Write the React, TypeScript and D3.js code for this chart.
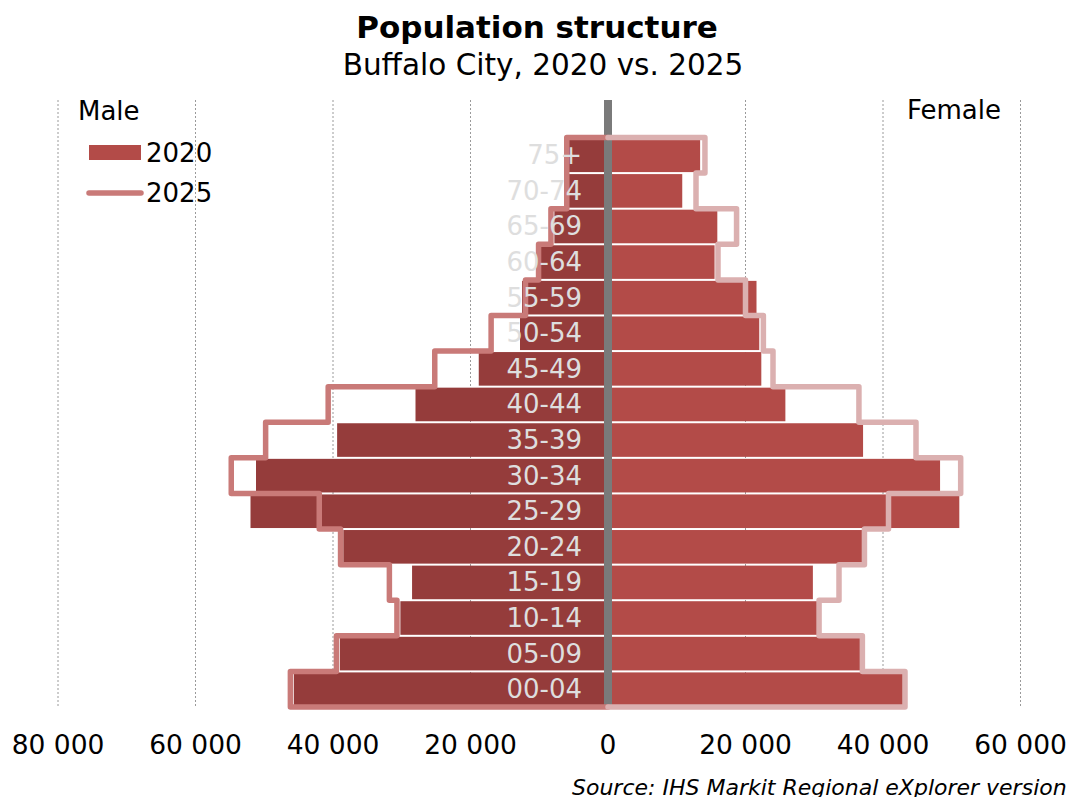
import React from "react";
import * as d3 from "d3";

const ageGroups = ["75+", "70-74", "65-69", "60-64", "55-59", "50-54", "45-49", "40-44", "35-39", "30-34", "25-29", "20-24", "15-19", "10-14", "05-09", "00-04"];
const male2020 = [5700, 5700, 7800, 9800, 12500, 12800, 18800, 28000, 39400, 51200, 52000, 38500, 28500, 30200, 39000, 45700];
const male2025 = [6000, 6000, 8300, 10100, 12000, 17000, 25200, 40700, 49800, 54800, 42000, 38900, 31800, 30700, 39500, 46200];
const female2020 = [13400, 10800, 15900, 15500, 21600, 22000, 22300, 25800, 37100, 48300, 51100, 37000, 29800, 30400, 36800, 42900];
const female2025 = [14100, 12800, 18700, 16000, 20000, 22600, 24000, 36500, 44800, 51300, 40800, 37300, 33600, 30700, 37000, 43200];
const tickValues = [-80000, -60000, -40000, -20000, 0, 20000, 40000, 60000];

const FONT = "DejaVu Sans, Verdana, sans-serif";
const C_MALE = "#953c3b";
const C_FEMALE = "#b34b48";
const C_MALE25 = "#c97a78";
const C_FEMALE25 = "#dbb0b0";

export default function App() {
  const W = 1070, H = 797;
  const x = d3.scaleLinear().domain([-80000, 60000]).range([58, 1020.5]);
  const y = d3.scaleBand<string>().domain(ageGroups).range([137.5, 707]).padding(0);
  const bw = y.bandwidth();
  const gridTop = 100, gridBottom = 707;
  const fmt = (v: number) => d3.format(",")(Math.abs(v)).replace(/,/g, " ");

  const stepPath = (vals: number[], sign: number) => {
    const pts: [number, number][] = [];
    pts.push([x(0), y(ageGroups[0])!]);
    vals.forEach((v, i) => {
      const top = y(ageGroups[i])!;
      pts.push([x(sign * v), top]);
      pts.push([x(sign * v), top + bw]);
    });
    pts.push([x(0), y(ageGroups[ageGroups.length - 1])! + bw]);
    return d3.line()(pts) || "";
  };

  return (
    <svg width={W} height={H} style={{ position: "absolute", left: 0, top: 0, background: "#fff" }} fontFamily={FONT}>
      <rect x={0} y={0} width={W} height={H} fill="#fff" />
      {/* title */}
      <text x={537} y={38} textAnchor="middle" fontSize={31} fontWeight="bold" fill="#000">Population structure</text>
      <text x={543} y={75} textAnchor="middle" fontSize={29.5} fill="#000">Buffalo City, 2020 vs. 2025</text>

      {/* grid */}
      {tickValues.filter(t => t !== 0).map(t => (
        <line key={"g" + t} x1={x(t)} x2={x(t)} y1={gridTop} y2={gridBottom} stroke="#9a9a9a" strokeWidth={1} strokeDasharray="2,2" />
      ))}

      {/* bars */}
      {ageGroups.map((a, i) => (
        <g key={"b" + a}>
          <rect x={x(-male2020[i])} y={y(a)! + 1} width={x(0) - x(-male2020[i])} height={bw - 2} fill={C_MALE} />
          <rect x={x(0)} y={y(a)! + 1} width={x(female2020[i]) - x(0)} height={bw - 2} fill={C_FEMALE} />
        </g>
      ))}

      {/* center line */}
      <line x1={x(0)} x2={x(0)} y1={gridTop} y2={gridBottom} stroke="#7a7a7a" strokeWidth={8} />

      {/* 2025 outlines */}
      <path d={stepPath(male2025, -1)} fill="none" stroke={C_MALE25} strokeWidth={5.5} strokeLinejoin="round" strokeLinecap="round" />
      <path d={stepPath(female2025, 1)} fill="none" stroke={C_FEMALE25} strokeWidth={5.5} strokeLinejoin="round" strokeLinecap="round" />

      {/* age labels */}
      {ageGroups.map(a => (
        <text key={"l" + a} x={x(0) - 26} y={y(a)! + bw / 2 + 9} textAnchor="end" fontSize={26} fill="#dedede">{a}</text>
      ))}

      {/* Male / Female */}
      <text x={78} y={120} fontSize={26} fill="#000">Male</text>
      <text x={1001} y={119} textAnchor="end" fontSize={26} fill="#000">Female</text>

      {/* legend */}
      <rect x={89} y={145} width={52} height={15} fill={C_FEMALE} />
      <text x={146} y={162} fontSize={26} fill="#000">2020</text>
      <line x1={89} x2={141} y1={193} y2={193} stroke={C_MALE25} strokeWidth={5.5} strokeLinecap="round" />
      <text x={146} y={202} fontSize={26} fill="#000">2025</text>

      {/* axis tick labels */}
      {tickValues.map(t => (
        <text key={"t" + t} x={x(t)} y={754} textAnchor="middle" fontSize={26.5} fill="#000">{fmt(t)}</text>
      ))}

      {/* source (clipped at the right edge, as in the reference) */}
      <text x={572} y={795} fontSize={22} fontStyle="italic" fill="#000">Source: IHS Markit Regional eXplorer version 2070</text>
    </svg>
  );
}
